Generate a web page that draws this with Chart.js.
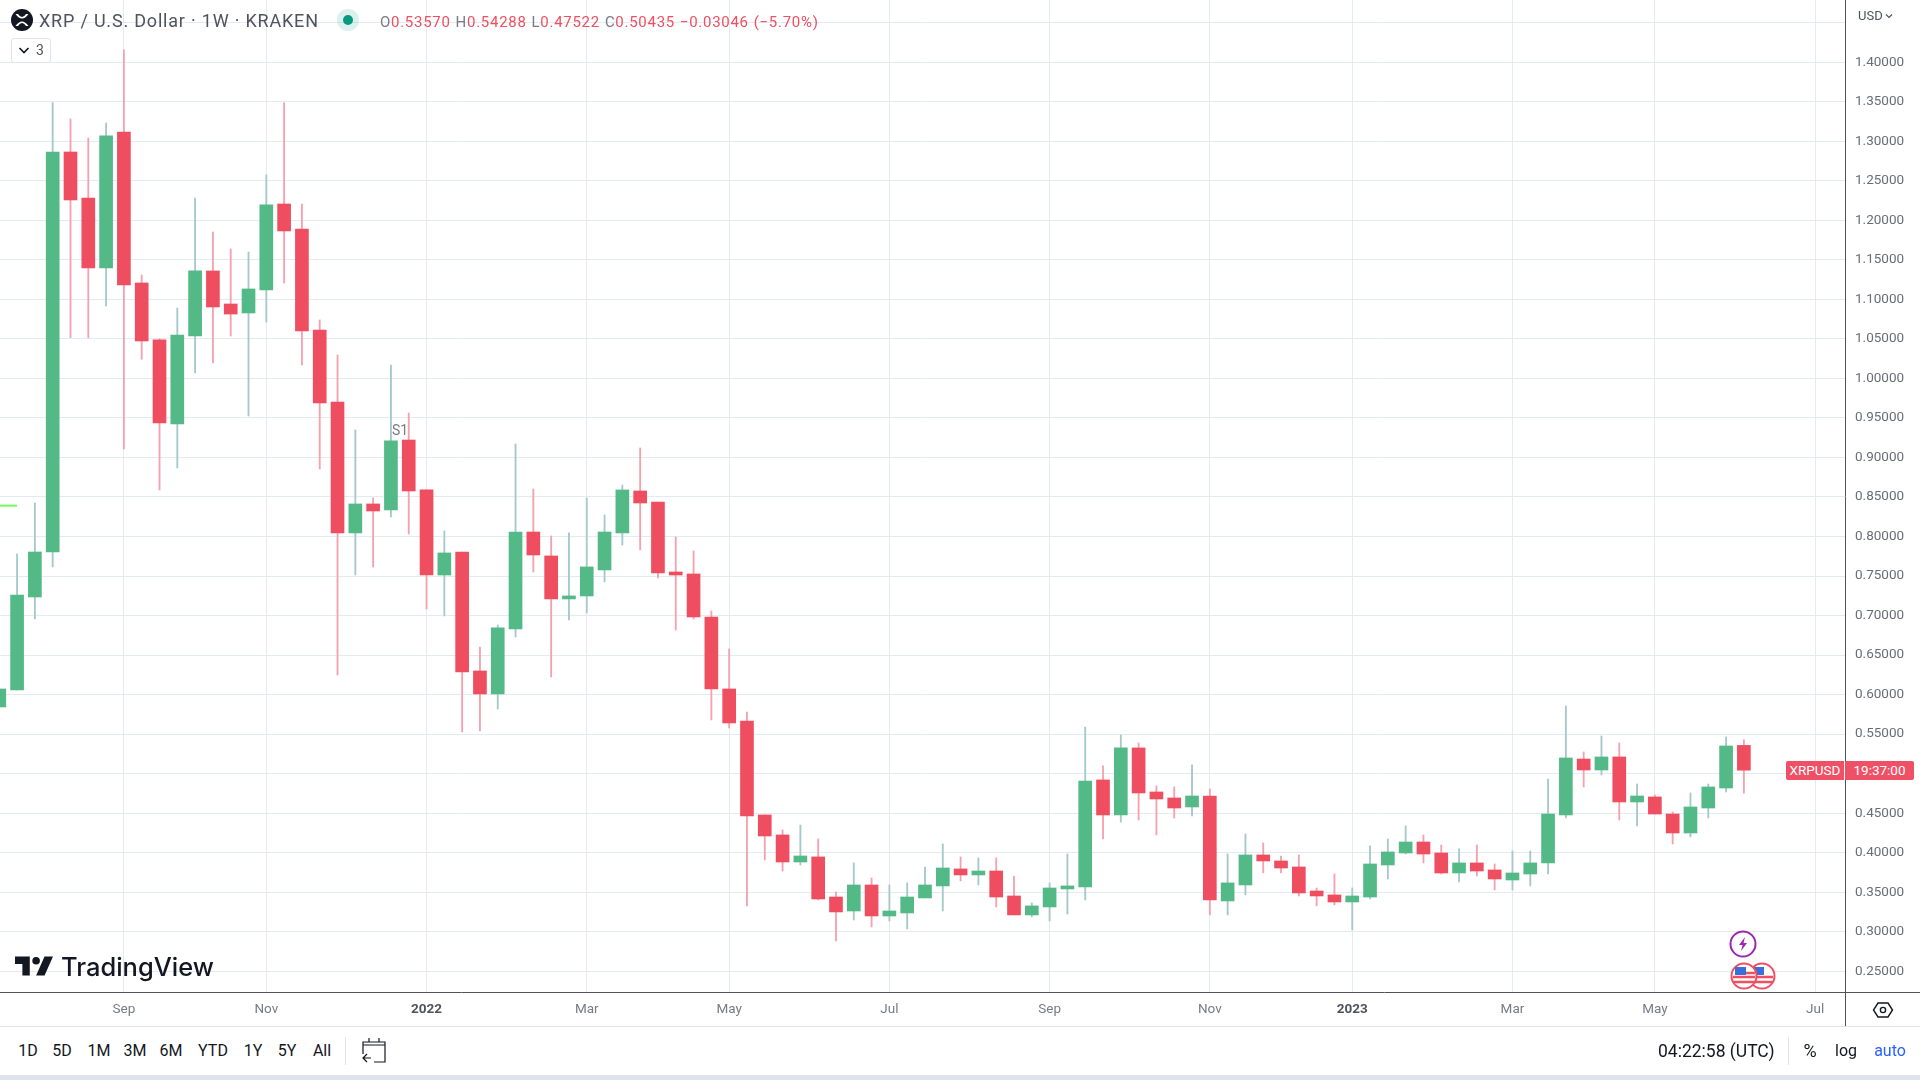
<!DOCTYPE html>
<html>
<head>
<meta charset="utf-8">
<title>XRP / U.S. Dollar</title>
<script src="https://cdn.jsdelivr.net/npm/chart.js@4"></script>
<style>
  html, body { margin: 0; padding: 0; background: #fff; }
  body { width: 1920px; height: 1080px; overflow: hidden; position: relative; font-family: Roboto, sans-serif; color: #131722; }
  #chart { position: absolute; left: 0; top: 0; }
  .t { position: absolute; white-space: nowrap; line-height: 20px; height: 20px; }
  .c { transform: translateX(-50%); }
  .rule { position: absolute; }
  svg { position: absolute; overflow: visible; }
  #title { left: 39px; top: 11px; font-size: 18px; letter-spacing: 0.8px; color: #50535e; }
  #ohlc { left: 380px; top: 12px; font-size: 15px; letter-spacing: 0.72px; word-spacing: 0.5px; color: #ef4f60; }
  #ohlc b { font-weight: 400; color: #787b86; }
  #fold { position: absolute; left: 11px; top: 38px; width: 38px; height: 23px; border: 1px solid #e0e3eb; border-radius: 3px; }
  .range { top: 1041px; font-size: 16px; }
  .tag { position: absolute; top: 761px; height: 19px; line-height: 19px; background: #ef5066; color: #fff; font-size: 13.5px; text-align: center; }
</style>
</head>
<body>
<canvas id="chart" width="1920" height="1027"></canvas>

<svg style="left:0;top:0" width="40" height="40">
  <circle cx="22" cy="20" r="11" fill="#131722"/>
  <path d="M15.5 14 L18 14 Q22 20 26 14 L28.5 14 Q22 23 15.5 14 Z M15.5 26 L18 26 Q22 20 26 26 L28.5 26 Q22 17 15.5 26 Z" fill="#fff"/>
</svg>
<div class="t" id="title">XRP / U.S. Dollar · 1W · KRAKEN</div>
<svg style="left:336px;top:8px" width="24" height="24">
  <circle cx="12" cy="12" r="11" fill="#089981" fill-opacity="0.14"/>
  <circle cx="12" cy="12" r="5" fill="#089981"/>
</svg>
<div class="t" id="ohlc"><b>O</b>0.53570 <b>H</b>0.54288 <b>L</b>0.47522 <b>C</b>0.50435 −0.03046 (−5.70%)</div>
<div id="fold"></div>
<svg style="left:18px;top:46px" width="14" height="10"><path d="M1.5 2 L6 6.5 L10.5 2" fill="none" stroke="#131722" stroke-width="1.6"/></svg>
<div class="t" style="left:36px;top:40px;font-size:14px;color:#50535e">3</div>
<div class="t c" style="left:400px;top:420px;font-size:14px;color:#787b86">S1</div>

<div class="t" style="left:1858px;top:6px;font-size:13px;color:#50535e">USD</div>
<svg style="left:1885px;top:13px" width="10" height="8"><path d="M1 1.5 L4 4.5 L7 1.5" fill="none" stroke="#50535e" stroke-width="1.2"/></svg>

<div class="rule" style="left:1845px;top:992px;width:1px;height:34px;background:#50535e"></div>
<div class="rule" style="left:1845px;top:992px;width:75px;height:1px;background:#50535e"></div>
<div class="rule" style="left:0;top:1026px;width:1920px;height:1px;background:#e0e3eb"></div>
<div class="rule" style="left:0;top:1075px;width:1920px;height:5px;background:#e0e3eb"></div>
<div class="rule" style="left:345px;top:1037px;width:1px;height:28px;background:#e0e3eb"></div>
<div class="rule" style="left:1788px;top:1037px;width:1px;height:28px;background:#e0e3eb"></div>

<div class="tag" style="left:1786px;width:58px;border-radius:2px 0 0 2px">XRPUSD</div>
<div class="tag" style="left:1845px;width:69px;border-radius:0 2px 2px 0">19:37:00</div>

<svg style="left:1729px;top:930px" width="28" height="28">
  <circle cx="14" cy="14" r="12.5" fill="#fff" stroke="#9c27b0" stroke-width="2"/>
  <path d="M16 7 L10 15 L13.5 15 L12 21 L18 13 L14.5 13 Z" fill="#9c27b0"/>
</svg>
<svg style="left:1748px;top:962px" width="28" height="28">
  <circle cx="14" cy="14" r="12.5" fill="#fff" stroke="#ef4f60" stroke-width="2"/>
  <path d="M3 15 H25 M4 20 H24" stroke="#ef4f60" stroke-width="2.5"/>
  <rect x="5" y="5" width="11" height="8" fill="#3a6fd8"/>
</svg>
<svg style="left:1730px;top:962px" width="28" height="28">
  <circle cx="14" cy="14" r="12.5" fill="#fff" stroke="#ef4f60" stroke-width="2"/>
  <path d="M14 11 H25 M3 15 H25 M4 20 H24" stroke="#ef4f60" stroke-width="2.5"/>
  <rect x="5" y="5" width="11" height="8" fill="#3a6fd8"/>
</svg>

<svg style="left:15px;top:956px" width="38" height="20" viewBox="0 0 36 18">
  <path d="M14 18H7V7H0V0H14V18ZM28 18H20L28 0H36L28 18Z" fill="#131722"/>
  <circle cx="20" cy="4" r="3.6" fill="#131722"/>
</svg>
<div class="t" style="left:61px;top:956px;font-family:Inter,sans-serif;font-size:25.5px;font-weight:500;line-height:22px;height:22px">TradingView</div>

<svg style="left:1872px;top:999px" width="22" height="22" fill="none" stroke="#131722" stroke-width="1.4">
  <path d="M6 4 H16 L20.5 11 L16 18 H6 L1.5 11 Z"/>
  <circle cx="11" cy="11" r="2.6"/>
</svg>
<svg style="left:362px;top:1037px" width="24" height="26" fill="none" stroke="#131722" stroke-width="1.2">
  <path d="M1 8 H23 M7 1 V5 M17 1 V5 M1 17 V5 H23 V25 H12 M1 21 H9 M5 17 L1 21 L5 25"/>
</svg>

<div class="t c range" style="left:28px">1D</div>
<div class="t c range" style="left:62px">5D</div>
<div class="t c range" style="left:99px">1M</div>
<div class="t c range" style="left:135px">3M</div>
<div class="t c range" style="left:171px">6M</div>
<div class="t c range" style="left:213px">YTD</div>
<div class="t c range" style="left:253px">1Y</div>
<div class="t c range" style="left:287px">5Y</div>
<div class="t c range" style="left:322px">All</div>
<div class="t range" style="left:1658px;font-size:17.5px">04:22:58 (UTC)</div>
<div class="t c range" style="left:1810px;font-size:18px">%</div>
<div class="t c range" style="left:1846px">log</div>
<div class="t c range" style="left:1890px;color:#2962ff">auto</div>

<script>
const weeks = [-7,-6,-5,-4,-3,-2,-1,0,1,2,3,4,5,6,7,8,9,10,11,12,13,14,15,16,17,18,19,20,21,22,23,24,25,26,27,28,29,30,31,32,33,34,35,36,37,38,39,40,41,42,43,44,45,46,47,48,49,50,51,52,53,54,55,56,57,58,59,60,61,62,63,64,65,66,67,68,69,70,71,72,73,74,75,76,77,78,79,80,81,82,83,84,85,86,87,88,89,90,91];

const opens = [.5843,.6058,.7235,.7804,1.2865,1.2283,1.1398,1.3118,1.1208,1.0487,.9424,1.0537,1.1360,1.0942,1.0828,1.1119,1.2207,1.1891,1.0613,.9702,.8045,.8412,.8336,.9221,.8589,.7513,.7804,.6299,.6008,.6830,.8057,.7754,.7210,.7248,.7577,.8045,.8576,.8437,.7551,.7526,.6982,.6071,.5666,.4477,.4224,.3882,.3946,.3439,.3262,.3591,.3199,.3237,.3427,.3579,.3794,.3718,.3768,.3452,.3212,.3313,.3541,.3566,.4920,.4477,.5325,.4768,.4692,.4578,.4717,.3389,.3591,.3971,.3895,.3819,.3515,.3465,.3376,.3439,.3844,.3996,.4135,.3996,.3743,.3870,.3781,.3654,.3730,.3870,.4477,.5185,.5046,.5211,.4641,.4705,.4489,.4249,.4565,.4818,.53570];
const highs = [.6071,.7779,.8424,1.3489,1.3283,1.3042,1.3232,1.4156,1.1309,1.0499,1.0891,1.2283,1.1853,1.1638,1.1600,1.2574,1.3489,1.2207,1.0740,1.0297,.9348,.8488,1.0170,.9563,.8589,.8070,.7804,.6602,.6881,.9171,.8601,.8007,.8045,.8488,.8273,.8652,.9120,.8437,.7994,.7817,.7058,.6577,.5780,.4477,.4287,.4350,.4173,.3503,.3870,.3680,.3591,.3617,.3819,.4110,.3946,.3933,.3933,.3705,.3364,.3617,.3984,.5590,.5097,.5489,.5388,.4844,.4831,.5110,.4806,.3984,.4237,.4123,.3958,.3971,.3553,.3730,.3553,.4085,.4173,.4338,.4224,.4097,.4047,.4097,.3857,.4021,.4021,.4932,.5856,.5274,.5476,.5388,.4869,.4730,.4515,.4755,.4869,.5464,.54288];
const lows = [.5843,.6058,.6957,.7615,1.0516,1.0516,1.0917,.9108,1.0242,.8589,.8867,1.0069,1.0196,1.0537,.9525,1.0714,1.1208,1.0170,.8854,.6248,.7513,.7615,.8247,.8032,.7083,.6995,.5527,.5540,.5818,.6729,.7551,.6223,.6944,.7033,.7425,.7893,.7830,.7475,.6817,.6957,.5679,.5578,.3326,.3908,.3768,.3844,.3402,.2883,.3148,.3060,.3136,.3035,.3427,.3262,.3642,.3591,.3313,.3212,.3186,.3136,.3224,.3402,.4173,.4388,.4414,.4224,.4439,.4464,.3212,.3212,.3465,.3743,.3743,.3452,.3326,.3338,.3022,.3414,.3667,.3983,.3870,.3730,.3629,.3705,.3528,.3528,.3579,.3730,.4439,.4831,.4983,.4414,.4338,.4489,.4110,.4199,.4439,.4768,.47522];
const closes = [.6071,.7260,.7804,1.2865,1.2258,1.1398,1.3068,1.1182,1.0474,.9436,1.0550,1.1360,1.0904,1.0815,1.1132,1.2195,1.1866,1.0600,.9689,.8045,.8412,.8323,.9209,.8576,.7513,.7792,.6286,.6008,.6843,.8057,.7766,.7210,.7248,.7615,.8057,.8589,.8424,.7539,.7513,.6982,.6071,.5641,.4464,.4211,.3882,.3958,.3414,.3250,.3591,.3199,.3262,.3439,.3591,.3806,.3718,.3768,.3439,.3212,.3326,.3553,.3579,.4907,.4477,.5325,.4755,.4679,.4565,.4717,.3402,.3617,.3971,.3895,.3806,.3490,.3452,.3376,.3452,.3857,.4009,.4135,.3983,.3743,.3870,.3768,.3667,.3743,.3870,.4489,.5198,.5046,.5211,.4641,.4717,.4489,.4249,.4578,.4831,.5350,.50435];

const xTickWeeks = [0,8,17,26,34,43,52,61,69,78,86,95];
const xTickLabels = ["Sep","Nov","2022","Mar","May","Jul","Sep","Nov","2023","Mar","May","Jul"];
const yTickValues = [0.25,0.30,0.35,0.40,0.45,0.50,0.55,0.60,0.65,0.70,0.75,0.80,0.85,0.90,0.95,1.00,1.05,1.10,1.15,1.20,1.25,1.30,1.35,1.40,1.45];
const yTickLabels = ["0.25000","0.30000","0.35000","0.40000","0.45000","0.50000","0.55000","0.60000","0.65000","0.70000","0.75000","0.80000","0.85000","0.90000","0.95000","1.00000","1.05000","1.10000","1.15000","1.20000","1.25000","1.30000","1.35000","1.40000",""];

const markerWeeks = [-7,-6];
const markerPrices = [0.839,0.839];

const green = "#53b987";
const red = "#ee4e5f";
const greenWick = "#a5c9cb";
const redWick = "#f4a3ae";
const isUp = weeks.map((w, i) => closes[i] >= opens[i]);

new Chart(document.getElementById("chart"), {
  data: {
    datasets: [
      {
        type: "bar",
        order: 1,
        data: weeks.map((w, i) => ({ x: w, y: [opens[i], closes[i]] })),
        backgroundColor: isUp.map(up => up ? green : red),
        barThickness: 13,
        grouped: false
      },
      {
        type: "bar",
        order: 2,
        data: weeks.map((w, i) => ({ x: w, y: [lows[i], highs[i]] })),
        backgroundColor: isUp.map(up => up ? greenWick : redWick),
        barThickness: 1.2,
        grouped: false
      },
      {
        type: "line",
        order: 0,
        data: markerWeeks.map((w, i) => ({ x: w, y: markerPrices[i] })),
        borderColor: "#6fff5f",
        borderWidth: 2,
        pointRadius: 0
      }
    ]
  },
  options: {
    responsive: false,
    devicePixelRatio: 1,
    animation: false,
    layout: { padding: 0 },
    plugins: { legend: { display: false }, tooltip: { enabled: false } },
    scales: {
      x: {
        type: "linear",
        min: -6.96,
        max: 96.68,
        offset: false,
        border: { color: "#50535e", width: 1 },
        grid: { color: "#e3ebf2", lineWidth: 1, drawTicks: false, offset: false },
        afterBuildTicks: scale => { scale.ticks = xTickWeeks.map(v => ({ value: v })); },
        afterFit: scale => { scale.height = 35; scale.paddingLeft = 0; scale.paddingRight = 0; },
        ticks: {
          autoSkip: false,
          maxRotation: 0,
          padding: 10,
          color: ctx => /^20/.test(xTickLabels[ctx.index]) ? "#50535e" : "#787b86",
          font: ctx => ({ family: "Roboto", size: 13.5, weight: /^20/.test(xTickLabels[ctx.index]) ? "bold" : "normal" }),
          callback: (value, index) => xTickLabels[index]
        }
      },
      y: {
        type: "linear",
        position: "right",
        min: 0.2237,
        max: 1.4788,
        border: { color: "#50535e", width: 1 },
        grid: { color: "#e3ebf2", lineWidth: 1, drawTicks: false },
        afterBuildTicks: scale => { scale.ticks = yTickValues.map(v => ({ value: v })); },
        afterFit: scale => { scale.width = 75; scale.paddingTop = 0; scale.paddingBottom = 0; },
        ticks: {
          autoSkip: false,
          padding: 10,
          color: "#6a6d78",
          font: { family: "Roboto", size: 13.5 },
          callback: (value, index) => yTickLabels[index]
        }
      }
    }
  }
});
</script>
</body>
</html>
